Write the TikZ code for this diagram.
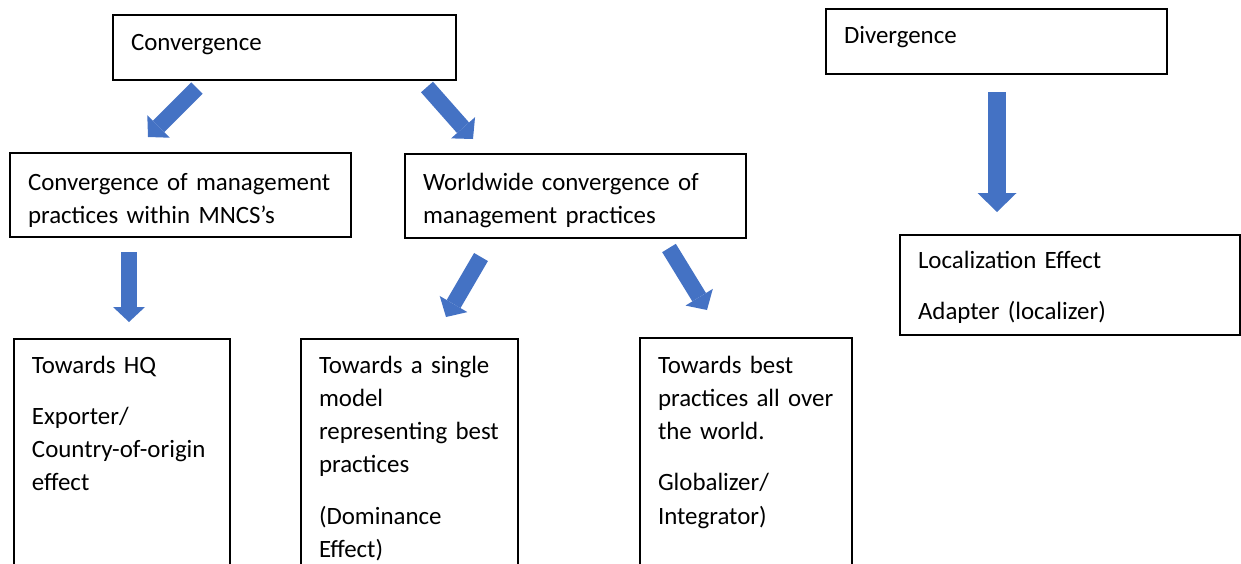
\documentclass[tikz,border=0pt]{standalone}
\usepackage{fontspec}
\setmainfont{Carlito}
\usetikzlibrary{arrows.meta}
\hyphenpenalty=10000
\definecolor{arrowblue}{RGB}{68,114,196}
\tikzstyle{box}=[draw,line width=1pt,anchor=north west,inner xsep=9pt,inner ysep=0pt,align=left,font=\fontsize{12.45pt}{16.65pt}\selectfont]
\tikzstyle{fat}=[line width=8pt,draw=arrowblue,-{Triangle[width=16pt,length=7.5pt,line width=0pt]}]
\tikzstyle{fatter}=[line width=9pt,draw=arrowblue,-{Triangle[width=19.5pt,length=9.5pt,line width=0pt]}]

\begin{document}
\begin{tikzpicture}[x=0.5pt,y=-0.5pt]
   \useasboundingbox (0,0) rectangle (1241,563);

    % top row
    \node[box,text width=153.5pt,text height=17.5pt,text depth=15pt] (conv) at (112,14) {Convergence};
    \node[box,text width=152.5pt,text height=17pt,text depth=15.5pt] (div) at (825,8) {Divergence};

    % middle row
    \node[box,text width=152.5pt,text height=18.5pt,text depth=23.5pt] (mncs) at (9,152)
        {Convergence~of~management\\practices~within~MNCS’s};
    \node[box,text width=152.5pt,text height=18pt,text depth=24pt] (world) at (404,153)
        {Worldwide~convergence~of\\management~practices};
    \node[box,text width=152pt,text height=16.5pt,text depth=33.5pt] (local) at (899,234)
        {Localization~Effect\\[9pt]Adapter~(localizer)};

    % bottom row
    \node[box,text width=90pt,text height=17pt,text depth=150pt] (hq) at (13,338)
        {Towards~HQ\\[9pt]Exporter/\\Country-of-origin\\effect};
    \node[box,text width=90.5pt,text height=17pt,text depth=150pt] (single) at (300,338)
        {Towards~a~single\\model\\representing~best\\practices\\[9pt](Dominance\\Effect)};
    \node[box,text width=88pt,text height=17.5pt,text depth=150pt] (best) at (639,337)
        {Towards~best\\practices~all~over\\the~world.\\[9pt]Globalizer/\\Integrator)};

    % arrow ends
    \foreach \x/\y/\name in {197/88/c1,148/137/c1e,427/87/c2,473/139/c2e,
                             129/252/m1,129/322/m1e,481/257/w1,446/317/w1e,
                             669/248/w2,707/310/w2e,997/92/d1,997/212/d1e}
        \coordinate (\name) at (\x,\y);

    \foreach \source/\dest in {c1/c1e,c2/c2e,m1/m1e,w1/w1e,w2/w2e}
        \draw[fat] (\source) -- (\dest);
    \draw[fatter] (d1) -- (d1e);
\end{tikzpicture}
\end{document}
